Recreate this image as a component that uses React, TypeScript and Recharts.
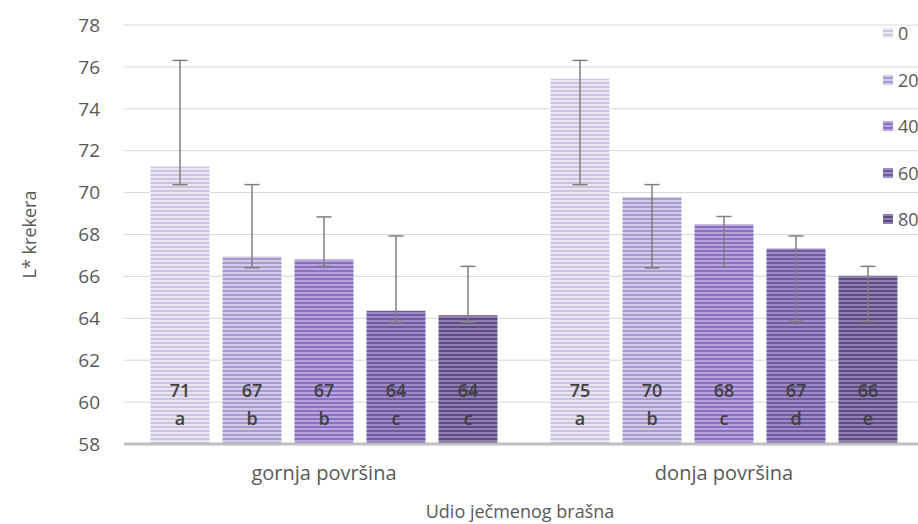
import React from 'react';
import { BarChart, Bar, XAxis, YAxis, CartesianGrid, ErrorBar, LabelList, Legend, Label } from 'recharts';

// categories (x axis)
const categories = ['gornja površina', 'donja površina'];
// series (legend) names
const seriesNames = ['0', '20', '40', '60', '80'];

// bar values per category
const gornjaValues = [71.24, 66.95, 66.81, 64.36, 64.14];
const donjaValues = [75.43, 69.79, 68.49, 67.33, 66.03];

// error bar ends (absolute values)
const gornjaHigh = [76.31, 70.38, 68.84, 67.93, 66.48];
const gornjaLow = [70.38, 66.41, 66.48, 63.81, 63.81];
const donjaHigh = [76.31, 70.38, 68.86, 67.93, 66.48];
const donjaLow = [70.38, 66.4, 66.46, 63.84, 63.84];

// significance letters
const gornjaLetters = ['a', 'b', 'b', 'c', 'c'];
const donjaLetters = ['a', 'b', 'c', 'd', 'e'];

// y axis ticks
const yTicks = [58, 60, 62, 64, 66, 68, 70, 72, 74, 76, 78];

const groupValues = [gornjaValues, donjaValues];
const groupHigh = [gornjaHigh, donjaHigh];
const groupLow = [gornjaLow, donjaLow];
const groupLetters = [gornjaLetters, donjaLetters];

const stripeColors = [
  { base: '#e9e5f1', line: '#cdc5df' },
  { base: '#d4cae9', line: '#a99bcb' },
  { base: '#b9a5e0', line: '#8a70be' },
  { base: '#a08bc9', line: '#6f5a9c' },
  { base: '#9080b3', line: '#5e4a84' },
];

const data = categories.map((name, ci) => {
  const row: Record<string, any> = { name };
  seriesNames.forEach((_, si) => {
    const v = groupValues[ci][si];
    row[`s${si}`] = v;
    row[`e${si}`] = [v - groupLow[ci][si], groupHigh[ci][si] - v];
  });
  return row;
});

const FONT = '"Open Sans", "DejaVu Sans", sans-serif';

const makeLabel = (si: number) => (props: any) => {
  const { x, y, width, height, index, value } = props;
  const cx = Number(x) + Number(width) / 2;
  const bottom = Number(y) + Number(height);
  const letter = groupLetters[index]?.[si] ?? '';
  return (
    <g>
      <text x={cx} y={bottom - 47} textAnchor="middle" fontSize={18} fill="#404040" fontWeight={600} fontFamily={FONT}>
        {Math.round(Number(value))}
      </text>
      <text x={cx} y={bottom - 19} textAnchor="middle" fontSize={18} fill="#404040" fontWeight={600} fontFamily={FONT}>
        {letter}
      </text>
    </g>
  );
};

const renderLegend = () => (
  <div style={{ fontFamily: FONT }}>
    {seriesNames.map((n, i) => (
      <div key={n} style={{ display: 'flex', alignItems: 'center', height: 46.5 }}>
        <svg width={10} height={10} style={{ marginRight: 5 }}>
          <rect x={0} y={0} width={10} height={10} fill={`url(#stripe${i})`} />
        </svg>
        <span style={{ fontSize: 18, color: '#595959', lineHeight: '20px' }}>{n}</span>
      </div>
    ))}
  </div>
);

export default function App() {
  return (
    <div
      style={{
        position: 'absolute',
        left: 0,
        top: 0,
        width: 918,
        height: 524,
        overflow: 'hidden',
        background: '#ffffff',
        fontFamily: FONT,
      }}
    >
      <BarChart
        width={930}
        height={524}
        data={data}
        margin={{ top: 25, right: 6, bottom: 0, left: 0 }}
        barCategoryGap={26.5}
        barGap={13}
      >
        <defs>
          {stripeColors.map((c, i) => (
            <pattern key={i} id={`stripe${i}`} width={4} height={4} patternUnits="userSpaceOnUse">
              <rect x={0} y={0} width={4} height={4} fill={c.base} />
              <rect x={0} y={2} width={4} height={2} fill={c.line} />
            </pattern>
          ))}
        </defs>
        <CartesianGrid vertical={false} stroke="#d9d9d9" strokeWidth={1} />
        <XAxis
          dataKey="name"
          height={80}
          tickSize={0}
          tickMargin={22}
          tickLine={false}
          axisLine={{ stroke: '#bfbfbf', strokeWidth: 3 }}
          tick={{ fontSize: 20, fill: '#595959', fontFamily: FONT }}
        >
          <Label
            value="Udio ječmenog brašna"
            position="insideBottom"
            offset={6}
            dx={-4}
            style={{ fontSize: 18, fill: '#595959', fontFamily: FONT }}
          />
        </XAxis>
        <YAxis
          width={124}
          domain={[58, 78]}
          ticks={yTicks}
          interval={0}
          allowDataOverflow
          tickSize={0}
          tickMargin={24}
          tickLine={false}
          axisLine={false}
          tick={{ fontSize: 19, fill: '#595959', fontFamily: FONT }}
        >
          <Label
            value="L* krekera"
            angle={-90}
            position="insideLeft"
            offset={30}
            style={{ fontSize: 18, fill: '#595959', fontFamily: FONT, textAnchor: 'middle' }}
          />
        </YAxis>
        <Legend
          layout="vertical"
          align="center"
          verticalAlign="middle"
          content={renderLegend}
          wrapperStyle={{ left: 883, top: 10, width: 40, height: 240 }}
        />
        {seriesNames.map((n, si) => (
          <Bar key={n} dataKey={`s${si}`} name={n} fill={`url(#stripe${si})`} isAnimationActive={false}>
            <ErrorBar dataKey={`e${si}`} direction="y" width={7.5} stroke="#7f7f7f" strokeWidth={1.5} />
            <LabelList dataKey={`s${si}`} content={makeLabel(si)} />
          </Bar>
        ))}
      </BarChart>
    </div>
  );
}
